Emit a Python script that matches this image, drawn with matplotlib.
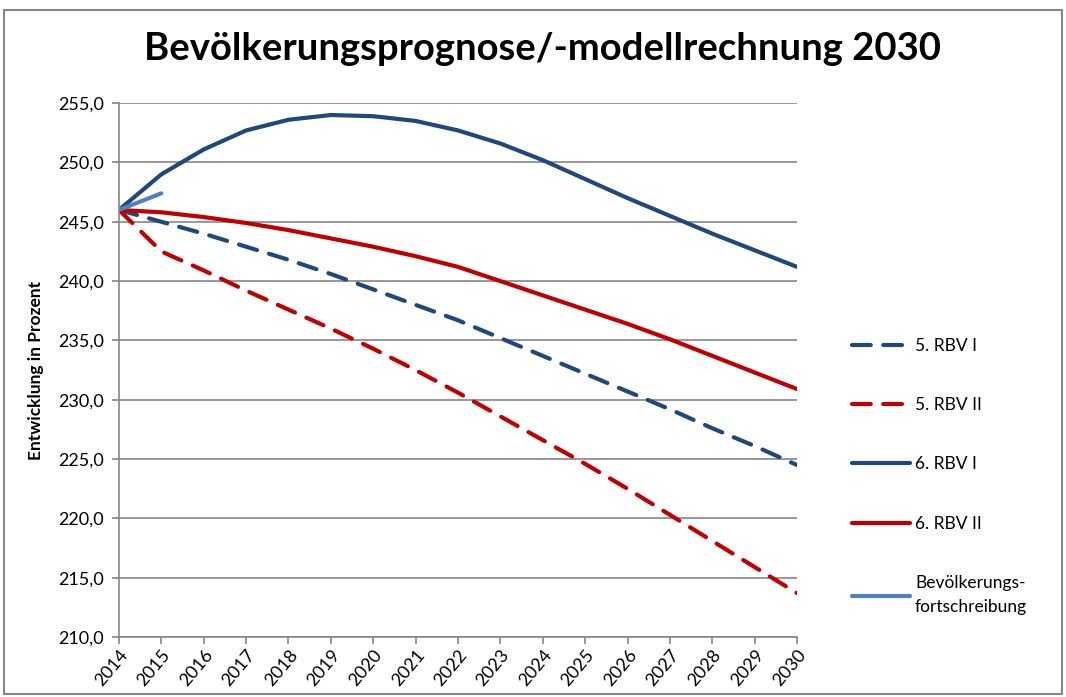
import numpy as np
import matplotlib.pyplot as plt
from matplotlib.patches import Rectangle

plt.rcParams['font.family'] = ['Lato', 'DejaVu Sans']

years = np.arange(2014, 2031)
rbv5_1 = [246.0, 245.0, 244.0, 242.9, 241.8, 240.6, 239.3, 238.0, 236.7,
          235.2, 233.7, 232.2, 230.7, 229.2, 227.6, 226.1, 224.5]
rbv5_2 = [246.0, 242.5, 240.9, 239.2, 237.6, 236.0, 234.3, 232.5, 230.6,
          228.6, 226.6, 224.6, 222.5, 220.3, 218.1, 215.9, 213.7]
rbv6_1 = [246.0, 249.0, 251.1, 252.7, 253.6, 254.0, 253.9, 253.5, 252.7,
          251.6, 250.2, 248.6, 247.0, 245.5, 244.0, 242.6, 241.2]
rbv6_2 = [246.0, 245.8, 245.4, 244.9, 244.3, 243.6, 242.9, 242.1, 241.2,
          240.0, 238.8, 237.6, 236.4, 235.1, 233.7, 232.3, 230.9]
fort_years = [2014, 2015]
fort = [246.0, 247.4]

dark_blue = '#1F497D'
red = '#C00000'
light_blue = '#4F81BD'
grid_col = '#868686'

fig = plt.figure(figsize=(10.66, 6.97), dpi=100)
ax = fig.add_axes([0.1116, 0.086, 0.6361, 0.766])

lw = 3.0
ax.plot(years, rbv5_1, color=dark_blue, lw=lw, dashes=(4.5, 3), dash_capstyle='round', label='5. RBV I')
ax.plot(years, rbv5_2, color=red, lw=lw, dashes=(4.5, 3), dash_capstyle='round', label='5. RBV II')
ax.plot(years, rbv6_1, color=dark_blue, lw=lw, solid_capstyle='round', label='6. RBV I')
ax.plot(years, rbv6_2, color=red, lw=lw, solid_capstyle='round', label='6. RBV II')
ax.plot(fort_years, fort, color=light_blue, lw=lw, solid_capstyle='round', label='Bevölkerungs-\nfortschreibung')

ax.set_xlim(2014, 2030)
ax.set_ylim(210, 255)
ax.set_yticks(np.arange(210, 256, 5))
ax.set_yticklabels([f'{v:.1f}'.replace('.', ',') for v in np.arange(210, 256, 5)], fontsize=13)
ax.set_xticks(years)
ax.set_xticklabels([str(y) for y in years], rotation=50, ha='right', va='top',
                   rotation_mode='anchor', fontsize=13)
ax.yaxis.grid(True, color=grid_col, lw=1.2)
ax.set_axisbelow(True)
for s in ['top', 'right']:
    ax.spines[s].set_visible(False)
for s in ['left', 'bottom']:
    ax.spines[s].set_color(grid_col)
    ax.spines[s].set_linewidth(1.2)
ax.tick_params(axis='both', color=grid_col, length=5, width=1.2, direction='out')
ax.tick_params(axis='y', pad=6)
ax.tick_params(axis='x', pad=2)

ax.set_ylabel('Entwicklung in Prozent', fontsize=12.5, fontweight='bold', labelpad=10)

fig.text(0.509, 0.93, 'Bevölkerungsprognose/-modellrechnung 2030', ha='center', va='center',
         fontsize=27.5, fontweight='bold')

leg = ax.legend(loc='upper left', bbox_to_anchor=(0.785, 0.538), bbox_transform=fig.transFigure,
                frameon=False, fontsize=12.5, handlelength=3.3, labelspacing=2.5, handletextpad=0.3)
leg.get_texts()[-1].set_linespacing(1.6)

fig.add_artist(Rectangle((0.004, 0.004), 0.992, 0.981, transform=fig.transFigure,
                         fill=False, edgecolor=grid_col, lw=1.5))

fig.savefig('out.png', dpi=100)
